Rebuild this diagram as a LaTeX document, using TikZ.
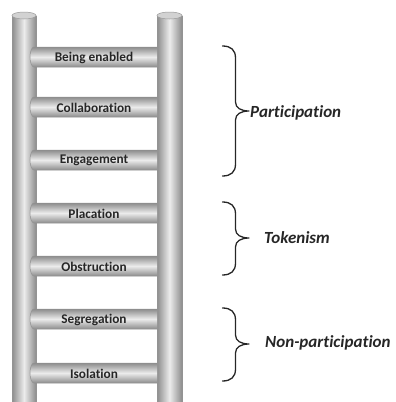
\documentclass[tikz,border=0pt]{standalone}
\usepackage{fontspec}
\setmainfont{Carlito}[Ligatures=NoCommon]
\definecolor{railedge}{HTML}{8C8C8C}
\definecolor{railmid}{HTML}{ECECEC}
\definecolor{txt}{HTML}{262626}
\tikzset{
  rail/.style={left color=railedge, right color=railedge, middle color=railmid},
  railline/.style={draw=gray!85, line width=0.5pt},
  railtop/.style={fill=gray!35, draw=gray!80, line width=0.5pt},
  rung/.style={top color=railedge, bottom color=railedge, middle color=railmid, draw=gray!85, line width=0.5pt},
  runglabel/.style={font=\bfseries\fontsize{13.3}{15}\selectfont, text=txt, inner sep=0pt},
  grp/.style={font=\bfseries\itshape\fontsize{17}{20}\selectfont, text=txt, anchor=west, inner sep=0pt},
  bracket/.style={draw=txt, line width=1.3pt, line cap=round, line join=round}
}
\begin{document}
\begin{tikzpicture}[x=1pt, y=1pt]
\useasboundingbox (0,0) rectangle (396,-402);
% rails
\shade[rail] (12,-15.5) rectangle (36,-402);
\draw[railline] (12,-15.5) -- (12,-402) (36,-15.5) -- (36,-402);
\filldraw[railtop] (24,-15.5) ellipse [x radius=12, y radius=3.5];
\shade[rail] (157,-15.5) rectangle (182,-402);
\draw[railline] (157,-15.5) -- (157,-402) (182,-15.5) -- (182,-402);
\filldraw[railtop] (169.5,-15.5) ellipse [x radius=12.5, y radius=3.5];
% rungs
\foreach \c/\lab/\nm in {57/Being enabled/r1, 107/Collaboration/r2, 160/Engagement/r3, 213/Placation/r4, 266/Obstruction/r5, 319/Segregation/r6, 373/Isolation/r7}{
  \shadedraw[rung] (157,-\c+10) -- (34,-\c+10) arc[start angle=90, end angle=270, x radius=4, y radius=10] -- (157,-\c-10);
  \node[runglabel] (\nm) at (94,-\c-0.5) {\lab};
}
% braces
\foreach \t/\m/\b in {46/111/176, 202/238/275, 308/344/381}{
  \draw[bracket] (222.5,-\t) .. controls (231,-\t) and (235.5,-\t-4) .. (235.5,-\t-12)
    -- (235.5,-\m+9) .. controls (235.5,-\m+3) and (241,-\m) .. (249,-\m)
    .. controls (241,-\m) and (235.5,-\m-3) .. (235.5,-\m-9)
    -- (235.5,-\b+12) .. controls (235.5,-\b+4) and (231,-\b) .. (222.5,-\b);
}
\node[grp] (g1) at (250,-113) {Participation};
\node[grp] (g2) at (264,-238) {Tokenism};
\node[grp] (g3) at (265,-343) {Non-participation};
\end{tikzpicture}
\end{document}
